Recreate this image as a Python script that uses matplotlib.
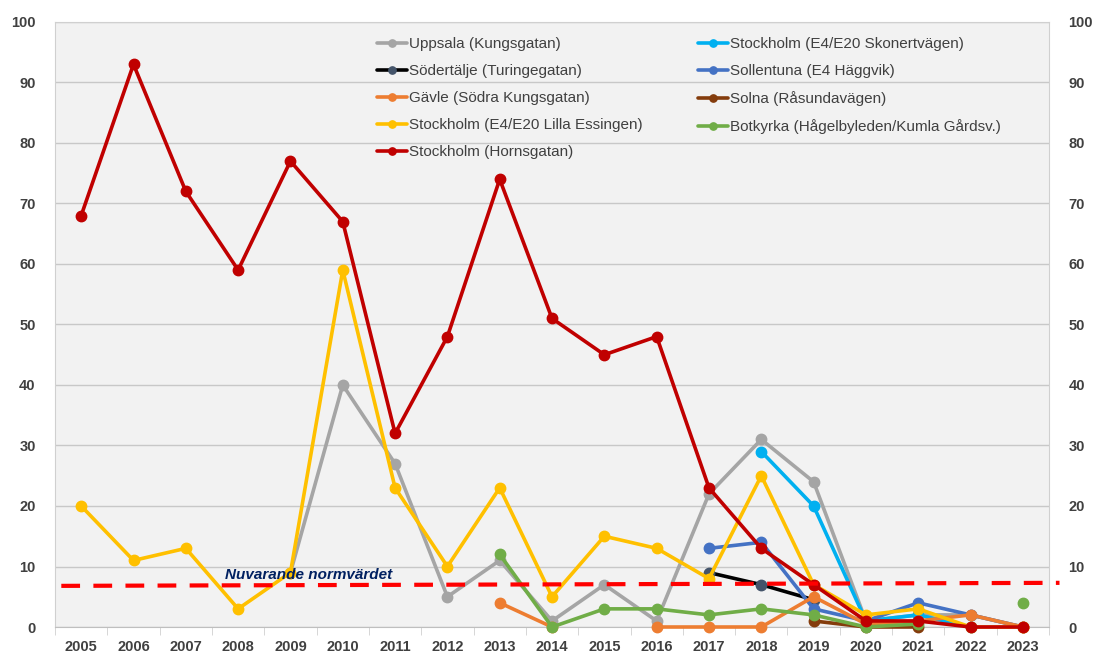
import numpy as np
import matplotlib
matplotlib.use("Agg")
from matplotlib import pyplot as plt

plt.rcParams['font.family'] = ['Liberation Sans', 'DejaVu Sans']

years = list(range(2005, 2024))
N = None

# series values, one per year 2005..2023 (None = no measurement)
uppsala     = [N, N, N, N, 9, 40, 27, 5, 11, 1, 7, 1, 22, 31, 24, 1, 2, 2, 0]
skonert     = [N, N, N, N, N, N, N, N, N, N, N, N, N, 29, 20, 1, 2, 0, N]
sodertalje  = [N, N, N, N, N, N, N, N, N, N, N, N, 9, 7, 4.5, N, N, N, N]
sollentuna  = [N, N, N, N, N, N, N, N, N, N, N, N, 13, 14, 3, 1, 4, 2, 0]
gavle       = [N, N, N, N, N, N, N, N, 4, 0, N, 0, 0, 0, 5, 0.5, 1, 2, 0]
solna       = [N, N, N, N, N, N, N, N, N, N, N, N, N, N, 1, 0, 0, N, N]
essingen    = [20, 11, 13, 3, 9, 59, 23, 10, 23, 5, 15, 13, 8, 25, 7, 2, 3, 0, 0]
botkyrka    = [N, N, N, N, N, N, N, N, 12, 0, 3, 3, 2, 3, 2, 0, 0.5, N, 4]
hornsgatan  = [68, 93, 72, 59, 77, 67, 32, 48, 74, 51, 45, 48, 23, 13, 7, 1, 1, 0, 0]

series = [
    ("Uppsala (Kungsgatan)", uppsala, "#A5A5A5", "#A5A5A5"),
    ("Stockholm (E4/E20 Skonertvägen)", skonert, "#00B0F0", "#00B0F0"),
    ("Södertälje (Turingegatan)", sodertalje, "#000000", "#44546A"),
    ("Sollentuna (E4 Häggvik)", sollentuna, "#4472C4", "#4472C4"),
    ("Gävle (Södra Kungsgatan)", gavle, "#ED7D31", "#ED7D31"),
    ("Solna (Råsundavägen)", solna, "#843C0C", "#843C0C"),
    ("Stockholm (E4/E20 Lilla Essingen)", essingen, "#FFC000", "#FFC000"),
    ("Botkyrka (Hågelbyleden/Kumla Gårdsv.)", botkyrka, "#70AD47", "#70AD47"),
    ("Stockholm (Hornsgatan)", hornsgatan, "#C00000", "#C00000"),
]

norm_x = [2004.62, 2023.7]
norm_y = [6.8, 7.3]

fig = plt.figure(figsize=(10.94, 6.56), dpi=100)
ax = fig.add_axes([0.0503, 0.0442, 0.9086, 0.9223])
ax.set_facecolor("#F2F2F2")

handles = {}
for name, vals, col, mcol in series:
    y = np.array([np.nan if v is None else v for v in vals], dtype=float)
    h, = ax.plot(years, y, color=col, lw=2.6, marker='o', ms=7.5,
                 markerfacecolor=mcol, markeredgecolor=mcol, label=name,
                 solid_capstyle='round', clip_on=False, zorder=3)
    handles[name] = h

ax.plot(norm_x, norm_y, color="#FF0000", lw=3, dashes=(4.5, 3.2),
        clip_on=False, zorder=4)
ax.text(2007.75, 7.9, "Nuvarande normvärdet", color="#002060",
        fontsize=11, fontstyle='italic', fontweight='bold', zorder=5)

ax.set_xlim(2004.5, 2023.5)
ax.set_ylim(0, 100)
ax.set_yticks(range(0, 101, 10))
ax.set_xticks(years)
ax.set_xticks(np.arange(2004.5, 2024, 1), minor=True)
ax.grid(axis='y', color="#C8C8C8", lw=1)
ax.set_axisbelow(True)
for s in ax.spines.values():
    s.set_color("#D0D0D0")
ax.spines['bottom'].set_color("#BFBFBF")
ax.tick_params(axis='x', which='major', length=0, pad=9,
               labelsize=10.5, labelcolor="#404040")
ax.tick_params(axis='x', which='minor', length=6, color="#D0D0D0")
ax.tick_params(axis='y', length=0, pad=14, labelsize=10.5, labelcolor="#404040")
for lab in ax.get_xticklabels() + ax.get_yticklabels():
    lab.set_fontweight('bold')

ax2 = ax.twinx()
ax2.set_ylim(0, 100)
ax2.set_yticks(range(0, 101, 10))
ax2.tick_params(axis='y', length=0, pad=14, labelsize=10.5, labelcolor="#404040")
for lab in ax2.get_yticklabels():
    lab.set_fontweight('bold')
for s in ax2.spines.values():
    s.set_visible(False)

order = ["Uppsala (Kungsgatan)", "Södertälje (Turingegatan)",
         "Gävle (Södra Kungsgatan)", "Stockholm (E4/E20 Lilla Essingen)",
         "Stockholm (Hornsgatan)", "Stockholm (E4/E20 Skonertvägen)",
         "Sollentuna (E4 Häggvik)", "Solna (Råsundavägen)",
         "Botkyrka (Hågelbyleden/Kumla Gårdsv.)"]
leg = ax.legend([handles[n] for n in order], order, ncol=2, frameon=False,
                loc='upper left', bbox_to_anchor=(0.31, 0.998),
                fontsize=11, handlelength=2.0, handletextpad=0.1,
                columnspacing=3.6, labelspacing=0.86, markerscale=0.7)
for t in leg.get_texts():
    t.set_color("#404040")

plt.savefig("out.png", dpi=100)
